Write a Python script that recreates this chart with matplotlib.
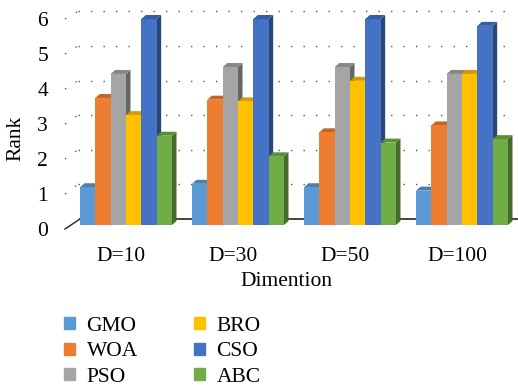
import matplotlib
matplotlib.use("Agg")
import matplotlib.pyplot as plt
from matplotlib.patches import Polygon, Patch
from matplotlib.transforms import ScaledTranslation
import matplotlib.colors as mcolors
import numpy as np

plt.rcParams['font.family'] = ['Liberation Serif', 'DejaVu Serif']

# data
dims = ['D=10', 'D=30', 'D=50', 'D=100']
methods = ['GMO', 'WOA', 'PSO', 'BRO', 'CSO', 'ABC']
gmo = [1.1, 1.2, 1.1, 1.0]
woa = [3.7, 3.65, 2.7, 2.9]
pso = [4.4, 4.6, 4.6, 4.4]
bro = [3.2, 3.6, 4.2, 4.4]
cso = [6.0, 6.0, 6.0, 5.8]
abc = [2.6, 2.0, 2.4, 2.5]
series = [gmo, woa, pso, bro, cso, abc]
colors = ['#5B9BD5', '#ED7D31', '#A5A5A5', '#FFC000', '#4472C4', '#70AD47']

FS = 15.5
W, H = 518, 387
fig = plt.figure(figsize=(W / 100, H / 100), dpi=100)

# axes placed in pixel terms: x 64..518, y 5..232
ax_l, ax_r, ax_t, ax_b = 64, 518, 5, 232
ax = fig.add_axes([ax_l / W, 1 - ax_b / H, (ax_r - ax_l) / W, (ax_b - ax_t) / H])
px_x = 112.0          # pixels per group
px_y = 206.0 / 6      # pixels per rank unit
base_px = 225
ax.set_xlim((ax_l - 126) / px_x, (ax_r - 126) / px_x)
ax.set_ylim((base_px - ax_b) / px_y, (base_px - ax_t) / px_y)
for s in ax.spines.values():
    s.set_visible(False)

def dx(p):
    return p / px_x

def dy(p):
    return p / px_y

x = np.arange(len(dims))
w = dx(15.33)
bx, by = dx(4.5), dy(4)

# back wall + side wall gridlines (dotted)
wall_y = dy(6)
x_left_front = dx(65 - 126)
x_left_back = dx(78 - 126)
for k in range(1, 7):
    yb = k * 1.008 + wall_y
    yf = k * 1.0195 - dy(4)
    ax.plot([x_left_back, dx(512 - 126)], [yb, yb], color='#555555', lw=1,
            ls=(0, (1, 8)), zorder=1)
    ax.plot([x_left_front, x_left_back], [yf, yb], color='#555555', lw=1,
            ls=(0, (1, 8)), zorder=1)

# floor lines
ax.plot([x_left_front, dx(80 - 126)], [-dy(4), wall_y], color='#222222', lw=1, zorder=1)
ax.plot([dx(80 - 126), dx(518 - 126)], [wall_y, wall_y], color='#222222', lw=1.2, zorder=1)

def shade(c, f):
    r, g, b = mcolors.to_rgb(c)
    return (r * f, g * f, b * f)

for j, (vals, c) in enumerate(zip(series, colors)):
    xs = x + (j - 2.5) * w
    z = 3 + j
    for xc, h in zip(xs, vals):
        x0, x1 = xc - w / 2, xc + w / 2
        ax.add_patch(Polygon([(x1, 0), (x1, h), (x1 + bx, h + by), (x1 + bx, by)],
                             closed=True, fc=shade(c, 0.62), ec='none', zorder=z))
        ax.add_patch(Polygon([(x0, h), (x1, h), (x1 + bx, h + by), (x0 + bx, h + by)],
                             closed=True, fc=shade(c, 0.82), ec='none', zorder=z))
    ax.bar(xs, vals, width=w, color=c, zorder=z + 0.5, label=methods[j])

# ticks
yt = [k * 1.0195 - dy(4) for k in range(7)]
ax.set_yticks(yt)
ax.set_yticklabels([str(k) for k in range(7)], fontsize=FS)
ax.set_xticks(x)
ax.set_xticklabels(dims, fontsize=FS)
ax.tick_params(length=0)
ax.tick_params(axis='y', pad=11.5)
ax.tick_params(axis='x', pad=11)
for lab in ax.get_xticklabels():
    lab.set_transform(lab.get_transform() + ScaledTranslation(-5 / 100, 0, fig.dpi_scale_trans))

fig.text(286 / W, 1 - 282 / H, 'Dimention', fontsize=FS, ha='center', va='center')
fig.text(16 / W, 1 - 138 / H, 'Rank', fontsize=FS, rotation=90, ha='center', va='center')

handles = [Patch(color=c) for c in colors]
fig.legend(handles, methods, ncol=2, loc='upper left', frameon=False,
           bbox_to_anchor=(64 / W, 1 - 317 / H), fontsize=FS,
           handlelength=0.5, handleheight=0.5, handletextpad=0.55,
           columnspacing=2.6, labelspacing=0.3, borderpad=0, borderaxespad=0)

fig.savefig('out.png', dpi=100)
